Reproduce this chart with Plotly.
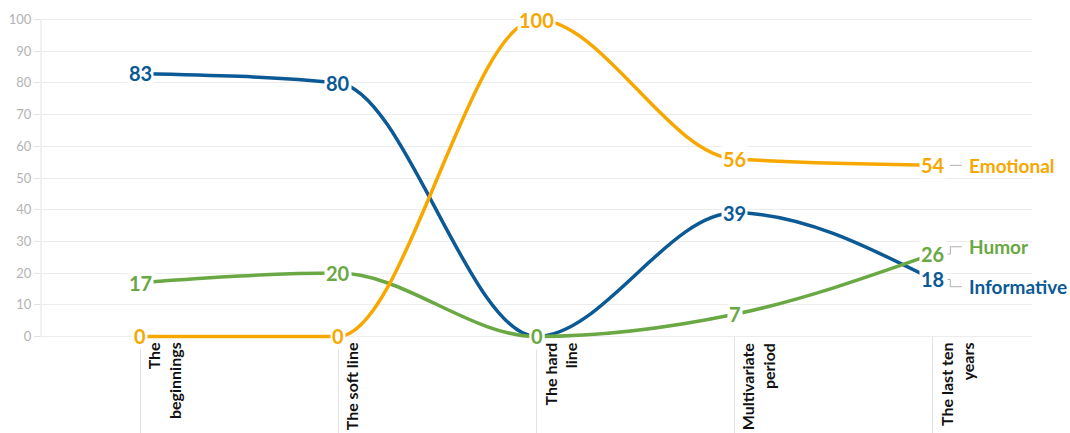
import plotly.graph_objects as go

periods = ["The<br>beginnings", "The soft line", "The hard<br>line",
           "Multivariate<br>period", "The last ten<br>years"]
series_names = ["Informative", "Humor", "Emotional"]
informative = [83, 80, 0, 39, 18]
humor = [17, 20, 0, 7, 26]
emotional = [0, 0, 100, 56, 54]
y_ticks = [0, 10, 20, 30, 40, 50, 60, 70, 80, 90, 100]

colors = {"Informative": "#0b5a95", "Humor": "#6aa843", "Emotional": "#f7a800"}
values = {"Informative": informative, "Humor": humor, "Emotional": emotional}

FONT = "Lato"
xs = list(range(len(periods)))
Y_MIN, Y_MAX = -3, 103   # a little headroom so thick lines at 0 and 100 are not clipped


def _sign(v):
    return (v > 0) - (v < 0)


def monotone_path(x, y):
    """SVG path of a monotone cubic curve (Fritsch-Carlson tangents) through the points."""
    n = len(x)
    s = [(y[i + 1] - y[i]) / (x[i + 1] - x[i]) for i in range(n - 1)]
    t = [0.0] * n
    for i in range(1, n - 1):
        h0, h1 = x[i] - x[i - 1], x[i + 1] - x[i]
        p = (s[i - 1] * h1 + s[i] * h0) / (h0 + h1)
        t[i] = (_sign(s[i - 1]) + _sign(s[i])) * min(abs(s[i - 1]), abs(s[i]), 0.5 * abs(p))
    t[0] = (3 * s[0] - t[1]) / 2
    t[-1] = (3 * s[-1] - t[-2]) / 2
    d = f"M {x[0]} {y[0]}"
    for i in range(n - 1):
        dx = (x[i + 1] - x[i]) / 3
        d += (f" C {x[i] + dx} {y[i] + dx * t[i]}, "
              f"{x[i + 1] - dx} {y[i + 1] - dx * t[i + 1]}, {x[i + 1]} {y[i + 1]}")
    return d


fig = go.Figure()

# one curve per series
for name in series_names:
    fig.add_shape(type="path", path=monotone_path(xs, values[name]),
                  xref="x", yref="y", line=dict(color=colors[name], width=3.5))

# value labels knocked out of the lines
for name in series_names:
    for i, v in enumerate(values[name]):
        fig.add_annotation(
            x=i, y=v, xref="x", yref="y", text=f"<b>{v}</b>", showarrow=False,
            font=dict(family=FONT, size=20, color=colors[name]),
            bgcolor="white", borderpad=1, xanchor="center", yanchor="middle",
        )

# series names at the right end, with leader lines
end_label_y = {"Emotional": 54, "Humor": 28.3, "Informative": 15.7}
last = len(periods) - 1
for name in series_names:
    v = values[name][-1]
    ly = end_label_y[name]
    if abs(ly - v) < 1:
        path = f"M {last + 0.086} {ly} L {last + 0.146} {ly}"
    else:
        path = (f"M {last + 0.074} {v} L {last + 0.088} {v} "
                f"L {last + 0.088} {ly} L {last + 0.146} {ly}")
    fig.add_shape(type="path", path=path, xref="x", yref="y",
                  line=dict(color="#b0b0b0", width=1))
    fig.add_annotation(
        x=last + 0.171, y=ly, xref="x", yref="y", text=f"<b>{name}</b>",
        showarrow=False, xanchor="left", yanchor="middle",
        font=dict(family=FONT, size=19, color=colors[name]),
    )

# rotated category labels to the right of each tick
for i, lab in enumerate(periods):
    fig.add_annotation(
        x=i, y=0, xref="x", yref="y", text=f"<b>{lab}</b>", showarrow=False,
        textangle=-90, xanchor="left", yanchor="top", align="right",
        xshift=2, yshift=-4,
        font=dict(family=FONT, size=16, color="#111111"),
    )

# y axis line, from 0 to 100 only
fig.add_shape(type="line", xref="paper", yref="y", x0=0, x1=0, y0=0, y1=100,
              line=dict(color="#e3e3e3", width=1))

fig.update_layout(
    width=1070, height=433,
    margin=dict(l=41, r=38, t=10, b=87),
    paper_bgcolor="white", plot_bgcolor="white",
    font=dict(family=FONT),
)
fig.update_xaxes(
    range=[-0.5, 4.5], tickvals=xs, showticklabels=False,
    anchor="free", position=(0 - Y_MIN) / (Y_MAX - Y_MIN),
    ticks="outside", ticklen=96, tickcolor="#e3e3e3", tickwidth=1,
    showgrid=False, zeroline=False, showline=False, automargin=False,
)
fig.update_yaxes(
    range=[Y_MIN, Y_MAX], tickvals=y_ticks, showgrid=True, gridcolor="#ececec",
    gridwidth=1, zeroline=False, showline=False, automargin=False,
    ticks="outside", ticklen=6, tickcolor="#e3e3e3",
    tickfont=dict(family=FONT, size=13, color="#b3b3b3"),
)

fig.write_html("out.html")
